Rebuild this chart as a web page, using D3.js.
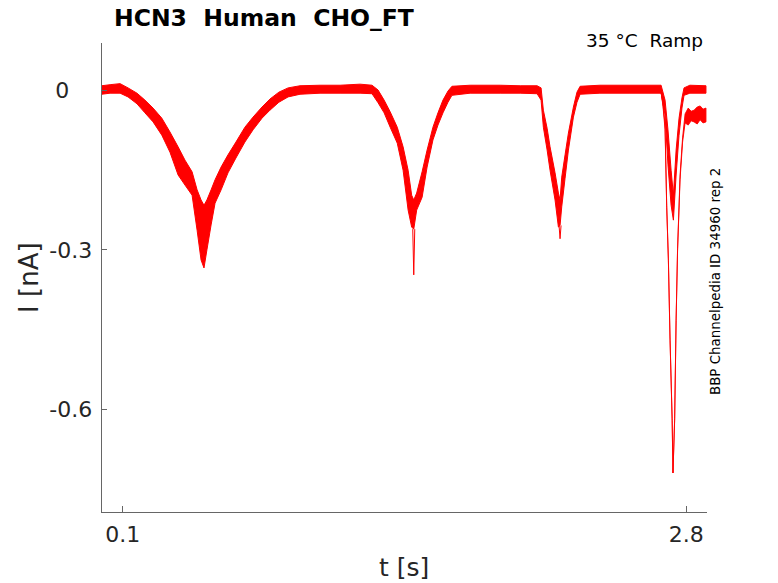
<!DOCTYPE html>
<html>
<head>
<meta charset="UTF-8">
<title>HCN3 Human CHO_FT</title>
<script src="https://d3js.org/d3.v7.min.js"></script>
<style>
    body { margin: 0; background: #fff; }
    text { font-family: "DejaVu Sans", sans-serif; fill: #262626; white-space: pre; }
    .axis path, .axis line { stroke: #666; stroke-width: 1; shape-rendering: crispEdges; }
</style>
</head>
<body>
<svg id="chart" width="778" height="583"></svg>
<script>
    // main trace: time [s], upper and lower edge of the noisy band [nA]
    const tA = [0.002, 0.042, 0.090, 0.128, 0.171, 0.209, 0.248, 0.290, 0.329, 0.368,
        0.401, 0.435, 0.459, 0.478, 0.492, 0.506, 0.526, 0.545, 0.574, 0.607,
        0.645, 0.688, 0.727, 0.770, 0.808, 0.851, 0.895, 0.952, 1.048, 1.144,
        1.240, 1.297, 1.326, 1.355, 1.384, 1.418, 1.446, 1.470, 1.487, 1.497,
        1.511, 1.537, 1.561, 1.589, 1.613, 1.637, 1.661, 1.680, 1.767, 1.911,
        2.007, 2.088, 2.107, 2.118, 2.136, 2.150, 2.174, 2.190, 2.198, 2.206,
        2.222, 2.238, 2.262, 2.279, 2.294, 2.389, 2.533, 2.682, 2.701, 2.715,
        2.730, 2.741, 2.754, 2.768, 2.782, 2.792, 2.820, 2.897];
    const hiA = [0.008, 0.010, 0.012, 0.004, -0.006, -0.019, -0.034, -0.053, -0.079, -0.107,
        -0.132, -0.154, -0.188, -0.207, -0.217, -0.207, -0.188, -0.169, -0.145, -0.122,
        -0.098, -0.070, -0.051, -0.032, -0.017, -0.004, 0.004, 0.008, 0.009, 0.009,
        0.011, 0.009, 0.000, -0.019, -0.041, -0.070, -0.107, -0.151, -0.198, -0.207,
        -0.194, -0.154, -0.113, -0.070, -0.043, -0.019, -0.002, 0.007, 0.009, 0.009,
        0.008, 0.008, 0.004, -0.038, -0.072, -0.107, -0.156, -0.194, -0.207, -0.164,
        -0.122, -0.081, -0.032, -0.004, 0.007, 0.009, 0.009, 0.009, -0.019, -0.075,
        -0.151, -0.198, -0.113, -0.053, -0.015, 0.004, 0.009, 0.008];
    const loA = [-0.008, -0.006, -0.006, -0.013, -0.026, -0.043, -0.060, -0.085, -0.117, -0.160,
        -0.179, -0.198, -0.264, -0.320, -0.335, -0.301, -0.254, -0.213, -0.188, -0.156,
        -0.128, -0.098, -0.075, -0.053, -0.038, -0.023, -0.013, -0.008, -0.006, -0.006,
        -0.006, -0.007, -0.024, -0.043, -0.070, -0.100, -0.151, -0.226, -0.258, -0.262,
        -0.226, -0.202, -0.145, -0.094, -0.066, -0.043, -0.023, -0.010, -0.006, -0.006,
        -0.006, -0.007, -0.019, -0.070, -0.113, -0.151, -0.207, -0.258, -0.255, -0.220,
        -0.166, -0.113, -0.051, -0.023, -0.008, -0.006, -0.006, -0.006, -0.047, -0.141,
        -0.217, -0.245, -0.160, -0.085, -0.034, -0.010, -0.006, -0.006];

    // narrow spikes below the band
    const spikeT = [1.497, 2.198];
    const spikeI = [-0.348, -0.280];

    // second sweep, deep last dip
    const tB = [2.682, 2.691, 2.701, 2.709, 2.717, 2.725, 2.735, 2.739, 2.747, 2.754,
        2.761, 2.773, 2.785, 2.797, 2.812, 2.826, 2.840, 2.855, 2.869, 2.883, 2.897];
    const hiB = [-0.002, -0.026, -0.066, -0.218, -0.318, -0.469, -0.619, -0.721, -0.619, -0.431,
        -0.299, -0.160, -0.090, -0.045, -0.034, -0.040, -0.038, -0.032, -0.030, -0.036, -0.034];
    const loB = [-0.004, -0.030, -0.074, -0.221, -0.321, -0.472, -0.622, -0.721, -0.622, -0.434,
        -0.302, -0.168, -0.098, -0.062, -0.066, -0.058, -0.060, -0.064, -0.056, -0.062, -0.060];

    const xTicks = [0.1, 2.8];
    const yTicks = [0, -0.3, -0.6];

    const svg = d3.select("#chart");
    const mLeft = 101.3, mRight = 707, mTop = 43, mBottom = 512.3;

    const x = d3.scaleLinear().domain([0, 2.902]).range([mLeft, mRight]);
    const y = d3.scaleLinear().domain([-0.795, 0.0885]).range([mBottom, mTop]);

    function band(ts, hi, lo) {
        return ts.map(function(t, i) { return { t: t, hi: hi[i], lo: lo[i] }; });
    }

    const area = d3.area()
        .x(function(d) { return x(d.t); })
        .y0(function(d) { return y(d.lo); })
        .y1(function(d) { return y(d.hi); });

    svg.append("path")
        .datum(band(tA, hiA, loA))
        .attr("d", area)
        .attr("fill", "#ff0000")
        .attr("stroke", "#ff0000")
        .attr("stroke-width", 1);

    svg.append("path")
        .datum(band(tB, hiB, loB))
        .attr("d", area)
        .attr("fill", "#ff0000")
        .attr("stroke", "#ff0000")
        .attr("stroke-width", 0.9);

    // spikes drawn from the band edge down to their minimum
    spikeT.forEach(function(t, i) {
        const j = tA.indexOf(t);
        svg.append("path")
            .attr("d", d3.line()([
                [x(t) - 1, y(loA[j])], [x(t), y(spikeI[i])], [x(t) + 1, y(loA[j])]
            ]))
            .attr("fill", "none")
            .attr("stroke", "#ff0000")
            .attr("stroke-width", 1);
    });

    // plain hyphen as minus, like the original
    const fmt = function(d) { return d === 0 ? "0" : d.toFixed(1); };

    // axes, ticks inside like matlab
    const xAxis = d3.axisBottom(x).tickValues(xTicks).tickSize(-6).tickSizeOuter(0)
        .tickFormat(fmt);
    const gx = svg.append("g").attr("class", "axis")
        .attr("transform", "translate(0," + mBottom + ")")
        .call(xAxis);
    gx.selectAll("text").attr("y", 30).attr("dy", 0).style("font-size", "22px");
    gx.select(".domain").attr("d", "M" + mLeft + ",0H" + mRight);

    const yAxis = d3.axisLeft(y).tickValues(yTicks).tickSize(-6).tickSizeOuter(0)
        .tickFormat(fmt);
    const gy = svg.append("g").attr("class", "axis")
        .attr("transform", "translate(" + mLeft + ",0)")
        .call(yAxis);
    gy.selectAll("text")
        .attr("x", function(d) { return d === 0 ? -32 : -9; })
        .attr("dy", "0.36em")
        .style("font-size", "22px");
    gy.select(".domain").attr("d", "M0," + mTop + "V" + mBottom);

    // labels
    svg.append("text")
        .attr("x", (mLeft + mRight) / 2).attr("y", 576)
        .attr("text-anchor", "middle")
        .style("font-size", "25px")
        .text("t [s]");

    svg.append("text")
        .attr("transform", "translate(38," + ((mTop + mBottom) / 2) + ") rotate(-90)")
        .attr("text-anchor", "middle")
        .style("font-size", "26px")
        .text("I [nA]");

    svg.append("text")
        .attr("x", 114).attr("y", 26)
        .style("font-size", "23.5px")
        .style("font-weight", "bold")
        .style("fill", "#000")
        .text("HCN3  Human  CHO_FT");

    svg.append("text")
        .attr("x", 703).attr("y", 47)
        .attr("text-anchor", "end")
        .style("font-size", "18.5px")
        .style("fill", "#000")
        .text("35 °C  Ramp");

    svg.append("text")
        .attr("transform", "translate(720,395) rotate(-90)")
        .style("font-size", "13.4px")
        .style("fill", "#000")
        .text("BBP Channelpedia ID 34960 rep 2");
</script>
</body>
</html>
